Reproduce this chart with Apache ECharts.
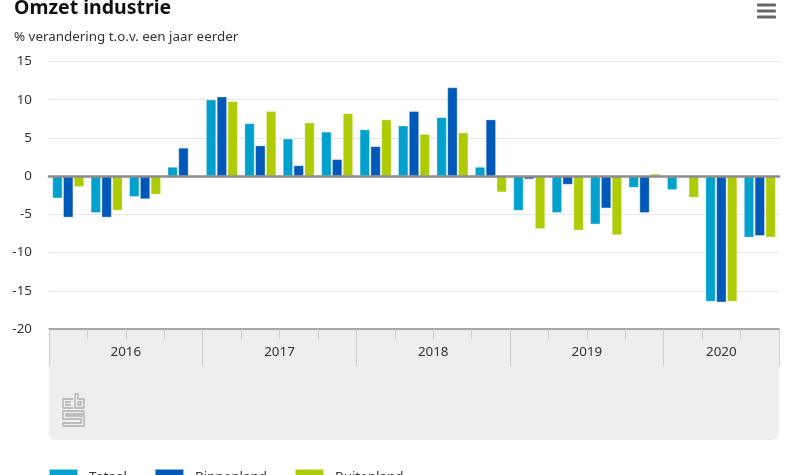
<!DOCTYPE html>
<html>
<head>
<meta charset="utf-8">
<title>Omzet industrie</title>
<script src="https://cdn.jsdelivr.net/npm/echarts@6/dist/echarts.min.js"></script>
<style>
  html, body { margin: 0; padding: 0; background: #fff; overflow: hidden; }
  #chart { width: 800px; height: 475px; }
</style>
</head>
<body>
<div id="chart"></div>
<script>
const FONT = '"Noto Sans", sans-serif'

const quarters = [
    '2016 K1', '2016 K2', '2016 K3', '2016 K4',
    '2017 K1', '2017 K2', '2017 K3', '2017 K4',
    '2018 K1', '2018 K2', '2018 K3', '2018 K4',
    '2019 K1', '2019 K2', '2019 K3', '2019 K4',
    '2020 K1', '2020 K2', '2020 K3'
]
const totaal = [-2.9, -4.8, -2.7, 1.2, 10, 6.9, 4.9, 5.8, 6.1, 6.6, 7.7, 1.2, -4.5, -4.8, -6.3, -1.5, -1.8, -16.4, -8]
const binnenland = [-5.4, -5.4, -3, 3.7, 10.4, 4, 1.4, 2.2, 3.9, 8.5, 11.6, 7.4, -0.4, -1.1, -4.2, -4.8, -0.1, -16.5, -7.8]
const buitenland = [-1.4, -4.5, -2.4, -0.1, 9.8, 8.5, 7, 8.2, 7.4, 5.5, 5.7, -2.1, -6.9, -7.1, -7.7, 0.3, -2.8, -16.4, -8]

const years = ['2016', '2017', '2018', '2019', '2020']
const yearEdges = [0, 4, 8, 12, 16, 19]
const yearMids = [2, 6, 10, 14, 17.5]

const colors = ['#00a1cd', '#0058b8', '#afcb05']

const grid = {left: 49, right: 21, top: 61.5, height: 267.5}

const makeBar = (name, data, i) => ({
    name,
    type: 'bar',
    data,
    barWidth: 10,
    barGap: '8%',
    itemStyle: {color: colors[i], borderColor: 'rgba(255,255,255,0.55)', borderWidth: 0.6}
})

// cbs logo as plain outline, only decoration in the grey panel
const logoLines = [
    [[73, 399], [63, 399], [63, 408], [73, 408]],
    [[71, 402], [66, 402], [66, 405], [71, 405]],
    [[75, 394], [75, 408], [84, 408], [84, 399], [78, 399], [78, 394], [75, 394]],
    [[78, 402], [81, 402], [81, 405], [78, 405], [78, 402]],
    [[84, 411], [63, 411], [63, 419], [81, 419], [81, 423], [63, 423], [63, 426], [84, 426], [84, 416], [66, 416], [66, 414], [84, 414], [84, 411]]
]

const chart = echarts.init(document.getElementById('chart'))
chart.setOption({
    animation: false,
    color: colors,
    textStyle: {fontFamily: FONT},
    title: [
        {
            text: 'Omzet industrie',
            left: 14,
            top: -2,
            padding: 0,
            textStyle: {fontFamily: FONT, fontSize: 19.5, fontWeight: 'bold', color: '#111'}
        },
        {
            text: '% verandering t.o.v. een jaar eerder',
            left: 14,
            top: 31,
            padding: 0,
            textStyle: {fontFamily: FONT, fontSize: 13.4, fontWeight: 'normal', color: '#333'}
        }
    ],
    legend: {
        left: 48,
        top: 468,
        padding: 0,
        itemWidth: 29,
        itemHeight: 16,
        itemGap: 27,
        icon: 'rect',
        selectedMode: false,
        textStyle: {fontFamily: FONT, fontSize: 13.4, color: '#333', padding: [0, 0, 6, 6]},
        data: ['Totaal', 'Binnenland', 'Buitenland']
    },
    grid,
    xAxis: [
        {
            // axis of the bars, its line is the zero line
            type: 'category',
            data: quarters,
            position: 'bottom',
            z: 5,
            axisLine: {onZero: true, lineStyle: {color: '#8c8c8c', width: 2.5}},
            axisTick: {show: false},
            axisLabel: {show: false},
            splitLine: {show: false}
        },
        {
            // quarter ticks
            type: 'category',
            data: quarters,
            position: 'bottom',
            z: 5,
            axisLine: {onZero: false, lineStyle: {color: '#8c8c8c', width: 1.5}},
            axisTick: {show: true, interval: 0, length: 10, lineStyle: {color: '#cccccc', width: 1}},
            axisLabel: {show: false},
            splitLine: {show: false}
        },
        {
            // year ticks and labels
            type: 'value',
            min: 0,
            max: 19,
            position: 'bottom',
            z: 5,
            axisLine: {show: false, onZero: false},
            axisTick: {show: true, length: 37, customValues: yearEdges, lineStyle: {color: '#cccccc', width: 1}},
            axisLabel: {
                show: true,
                customValues: yearMids,
                margin: 17,
                fontFamily: FONT,
                fontSize: 13.4,
                color: '#333',
                formatter: (v) => years[yearMids.indexOf(v)]
            },
            splitLine: {show: false}
        }
    ],
    yAxis: {
        type: 'value',
        min: -20,
        max: 15,
        interval: 5,
        axisLine: {show: false},
        axisTick: {show: false},
        axisLabel: {margin: 17, padding: [2, 0, 0, 0], fontFamily: FONT, fontSize: 13.4, color: '#333'},
        splitLine: {lineStyle: {color: '#e6e6e6', width: 1}}
    },
    series: [
        makeBar('Totaal', totaal, 0),
        makeBar('Binnenland', binnenland, 1),
        makeBar('Buitenland', buitenland, 2)
    ],
    graphic: [
        {
            type: 'rect',
            z: -1,
            silent: true,
            shape: {x: 49, y: 329, width: 730, height: 111, r: [0, 0, 7, 7]},
            style: {fill: '#eeeeee'}
        },
        ...logoLines.map((points) => ({
            type: 'polyline',
            silent: true,
            shape: {points},
            style: {fill: null, stroke: '#adadad', lineWidth: 1.3}
        })),
        ...[5, 11, 17].map((y) => ({
            type: 'rect',
            silent: true,
            shape: {x: 757, y: y - 1.5, width: 19, height: 3, r: 1},
            style: {fill: '#666666'}
        }))
    ]
})
</script>
</body>
</html>
